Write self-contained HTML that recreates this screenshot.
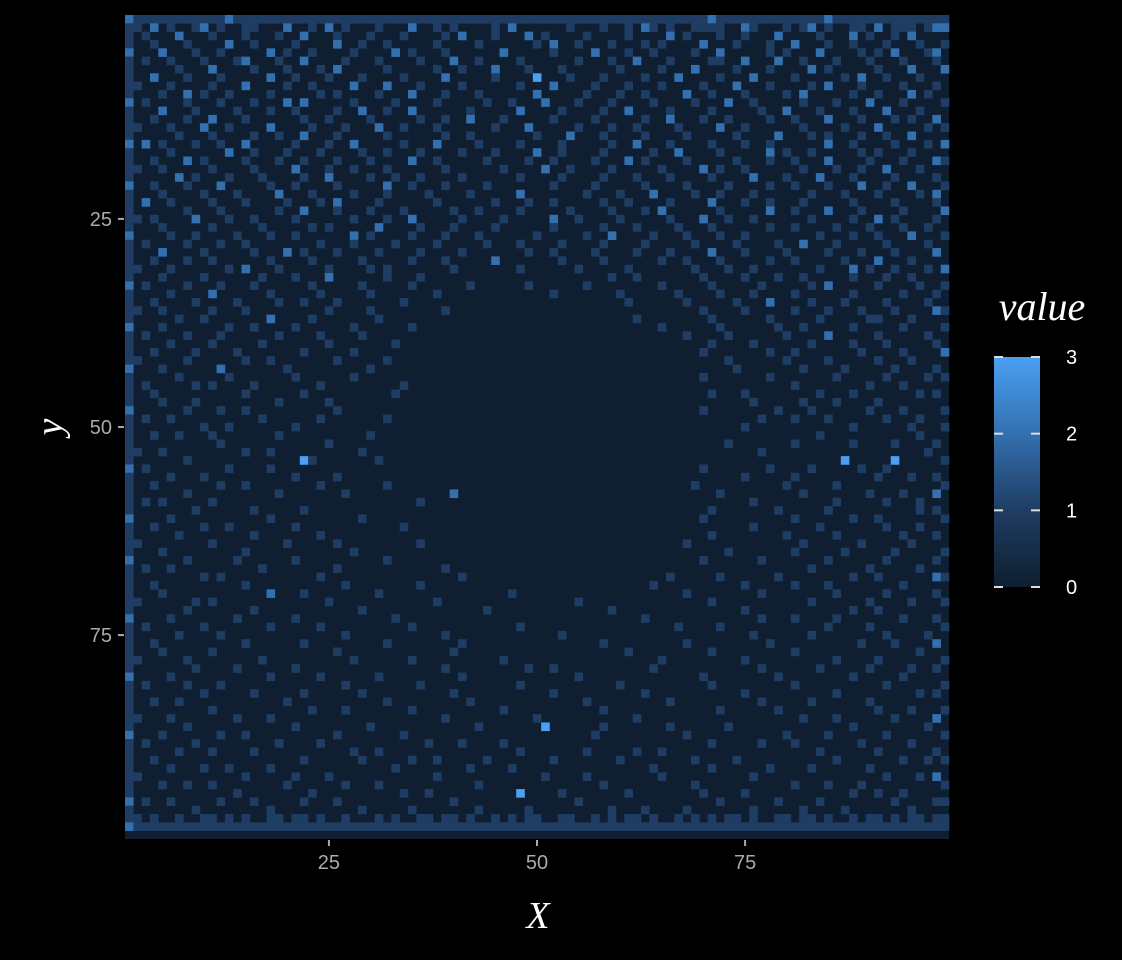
<!DOCTYPE html>
<html><head><meta charset="utf-8"><style>
html,body{margin:0;padding:0;background:#000;}
svg{display:block;}
text{font-family:"Liberation Sans",sans-serif;}
</style></head><body>
<svg id="chart" width="1122" height="960" viewBox="0 0 1122 960">
<rect x="0" y="0" width="1122" height="960" fill="#000"/>
<g id="cells"></g>
<g id="axes"></g>
<text x="538" y="928" font-size="38" fill="#fff" text-anchor="middle" style="font-family:'Liberation Serif',serif;font-style:italic">X</text>
<text x="0" y="0" font-size="38" fill="#fff" text-anchor="middle" transform="translate(62,427) rotate(-90)" style="font-family:'Liberation Serif',serif;font-style:italic">y</text>
<text x="1042" y="320" font-size="40" fill="#fff" text-anchor="middle" style="font-family:'Liberation Serif',serif;font-style:italic">value</text>
<defs><linearGradient id="lg" x1="0" y1="1" x2="0" y2="0">
<stop offset="0" stop-color="#0f1e30"/><stop offset="0.333" stop-color="#1f3d62"/><stop offset="0.667" stop-color="#3370b0"/><stop offset="1" stop-color="#4aa0f2"/></linearGradient></defs>
<rect x="994" y="357" width="46" height="230" fill="url(#lg)"/>
<g id="legend"></g>
</svg>
<script>
const xTicks=[25,50,75];
const yTicks=[25,50,75];
const legendTicks=[0,1,2,3];
const rows=[
"2111111111 1121111111 1111111111 1111111111 1111111111 1111111111 1111111111 2111111111 1111211111 1111111112",
"1102010012 0100110002 0010201000 1000200101 0000102000 0001000100 1021010011 1100210001 0120100110 2011101221",
"1010002000 1000100010 0200010001 0001000010 2000100020 1000010000 1000020100 0100100020 0001000201 0010200001",
"1001000100 0020010000 1000020010 0100000100 0010000001 0200100010 0010100002 0001000100 2000100100 0100010011",
"2000200010 0100000201 0010000100 0020100010 0000020000 0100002000 1001000010 0200000101 0002000010 1020001201",
"1010010001 0001200010 0200001000 1000010002 0010000100 0000100010 0200010000 1100200020 0100010001 0001000101",
"1000001000 2000010001 0001020000 0100000100 1000200010 0010000001 0000100020 0001000100 0020100000 1000200021",
"1002000100 0100000200 1000100010 0001000020 0000100003 0001000100 0010002000 0100020000 1000001020 0100010001",
"1100010000 1000200001 0010000200 0200010000 1000000100 0200001000 1000100001 0002000100 0010200010 0001000101",
"1000100201 0010000100 0001010000 1000200010 0010000002 0000010001 0010000200 1000100001 0200000100 1000201001",
"2010000100 0100010002 0200000100 0010000100 0001001000 2000100010 0001000010 0020010000 0100010002 0001000011",
"1000200010 0001000100 1000010020 0100200000 0100000200 0010000100 2000010000 1000001002 0001000100 0200010001",
"1001000100 2000100000 0100100001 0000010010 0200010000 0100001000 0010020001 0010000100 1000200010 0010100201",
"1100010002 0010000200 0010001000 2001000100 0000100020 0000100010 0100001000 0200100000 0100001000 2000001011",
"1000001000 1000010010 0200010000 0100000010 0100000001 0002000100 0010000100 0001000020 0010100010 0100200001",
"2020100010 0100200000 1000100200 0001000200 0010000100 0010000010 0200010000 1000100100 0000200100 0010001021",
"1000010000 0020010001 0001000010 0100010000 1000100002 0010000100 0001002000 0100000201 0010000010 1000100001",
"1001000201 0000100010 0100010001 0000200100 0001000010 0100001000 2010000100 0001000100 1000200001 0001000211",
"1100100000 1000010000 2000100100 0100000010 0000010000 2001000010 0000100002 0100100000 0100010010 0200010001",
"1000002010 0010001000 0100200001 0010010000 1000000100 0010000100 0100010000 1000020001 0002000100 0010000101",
"2001000100 0200000100 1000010000 0200100010 0001000000 0100001000 0010000100 0010000100 1000100020 0100200011",
"1000100001 0001000020 0010000100 0100001000 0100000200 0000010001 0002000010 0100010000 0010001000 1000010201",
"1020010000 1000100001 0001020000 1000000100 0000100010 0100000100 1000010000 2000100100 0100000100 0010000101",
"1000000100 0100000010 0200010001 0001000001 0010000100 0001000010 0010200000 0100000200 1000200010 0001000021",
"1101000020 0010010000 1000000100 0100200000 1000010000 0200100001 0000010002 0010010000 0010000100 2010000101",
"1000100000 1000001000 0010100000 2000010001 0000100000 0100000100 0100001000 1000000100 1000010001 0001001001",
"2000010010 0001000100 1000000201 0000100010 0010000001 0000010020 0001000100 0100100000 0001000100 1000200011",
"1010000100 0100100000 0001000100 0010000100 0001000100 0010000100 0010000010 0001000010 0200010000 0100001001",
"1000200001 0000010002 0100010000 1000010000 1000000010 0100001000 0100010000 2000100001 0000100010 0010000201",
"1001000100 1000000100 0010000010 0000100010 0000200000 0010000100 0000100100 0100000100 1000001000 2000100001",
"1100010000 0010200010 0000100001 0100000001 0000000100 0000100000 1000000010 0010010000 0001000201 0010001021",
"1000100001 0000001000 1000200000 0100010000 0000000000 0000000010 0100000001 0000100010 0100000100 0100100001",
"2010000100 0100010000 0010000010 0000100000 0100000010 0000010000 0000100000 1000001000 0010200000 1000010011",
"1000010000 2000000100 0001000001 0000000100 0000000000 0100000001 0000001000 0100010000 1000000100 0001000101",
"1001000010 0001000010 0100010000 0001000000 0000000000 0000000000 1000000100 0001000200 0010001000 0100001001",
"1100100000 1000100000 0000100001 0000000010 0000000000 0000000000 0000000001 0000100000 1000100010 0010000211",
"1000001001 0000000200 0010000000 1000000000 0000000000 0000000000 0100000000 1000000100 0001000001 1000100001",
"2000100000 0010010000 1000000100 0000100000 0000000000 0000000000 0000100000 0100000010 0100000100 0001000011",
"1010000100 0100000010 0001000010 0000000000 0000000000 0000000000 0000000100 0010000001 0000200000 1000001001",
"1000010000 1000001000 0000100000 0010000000 0000000000 0000000000 0000000000 1000010000 0010000100 0100000101",
"1001000010 0001000000 0100000100 0000000000 0000000000 0000000000 0000000001 0000000100 1000000010 0001000021",
"1100000100 0000100100 0000010000 0100000000 0000000000 0000000000 0000000000 0010000001 0000100000 1000100001",
"2000100000 0200000001 0000000001 0000000000 0000000000 0000000000 0000000000 0001000000 0100001000 0010000101",
"1000001000 0010000000 1000000100 0000000000 0000000000 0000000000 0000000001 0000000100 0000010000 0100001011",
"1010000010 1000010000 0001000000 0001000000 0000000000 0000000000 0000000000 0000000000 1000000001 0001000001",
"1001000000 0000100000 0100000000 0010000000 0000000000 0000000000 0000000000 1000100000 0001000100 0000010101",
"1000100010 0000000010 0000100000 0000000000 0000000000 0000000000 0000000000 0000010000 0100010000 1000000001",
"2000000100 0100100000 0000010000 0000000000 0000000000 0000000000 0000000001 0000000010 0010000001 0001000011",
"1010010000 0000001000 0001000000 0100000000 0000000000 0000000000 0000000000 0000001000 1000100000 0100010001",
"1000000001 0010000000 1000000000 0000000000 0000000000 0000000000 0000000000 0000100000 0000000100 0000100011",
"1001001000 1000000010 0000000001 0000000000 0000000000 0000000000 0000000000 0000000000 0001000000 0000010001",
"1000000000 0100000000 0000100000 0000000000 0000000000 0000000000 0000000000 0010000000 1000000100 0010000101",
"1100100000 0000100100 0000000010 0000000000 0000000000 0000000000 0000000000 0000001000 0000000000 0000001001",
"1000000100 0000000000 0310000000 1000000000 0000000000 0000000000 0000000000 0000000000 0000003000 0030000011",
"2010000000 0010000100 0000000000 0000000000 0000000000 0000000000 0000000001 0000000100 0010000010 0100000001",
"1000010001 0000000000 1000010000 0000000000 0000000000 0000000000 0000000000 0000100000 1000000000 1000100101",
"1001000000 0100100000 0001000000 0100000000 0000000000 0000000000 0000000010 0000000001 0000010000 0000000011",
"1000000100 0000000010 0000001000 0000000002 0000000000 0000000000 0000000000 0100000000 0100000001 0001000201",
"1010100000 1000000000 0000000000 0000010000 0000000000 0000000000 0000000000 0000010000 0000010000 0100010001",
"1000000010 0000010000 0100000000 0000000000 0000000000 0000000000 0000000000 1000000010 0000100000 0000010101",
"2000010000 0000000100 0000000010 0000000000 0000000000 0000000000 0000000001 0000000000 1000000100 1000000011",
"1001000001 0010000000 1000000000 0001000000 0000000000 0000000000 0000000000 0000010000 0001000000 0100010001",
"1000001000 0000010000 0001000000 0000000000 0000000000 0000000000 0000000000 1000000001 0000010000 0001000101",
"1100000000 1000000001 0000010000 0000010000 0000000000 0000000000 0000000100 0000000000 0100000010 0000100001",
"1000100000 0000100000 0000000100 0000000000 0000000000 0000000000 0000000000 0010000000 1000001000 0010000011",
"2000000100 0001000000 1000000000 0100000000 0000000000 0000000000 0000000001 0000001000 0000100000 0100000101",
"1010010000 0000001000 0000010000 0000000010 0000000000 0000000000 0000000000 0000000000 0010000001 0000010001",
"1000000001 0100000000 0001000000 0000000000 1000000000 0000000000 0000010000 0100000010 0000000100 1000000211",
"1001000000 0000100000 0000001000 0000010000 0000000000 0000000000 0001000000 0000100000 1000100000 0001000001",
"1000100000 0000000200 0100000000 1000000000 0000001000 0000000000 0000000100 0000001000 0000010000 0100000101",
"1100000010 1000000000 0000100000 0000000100 0000000000 0000100000 0000000000 1000000000 0010000001 0000100011",
"1000000100 0000010000 0000000010 0000000000 0001000000 0000000010 0000000000 0000100000 0000000100 1000000001",
"2000010000 0001000000 1000000000 0010000000 0000000000 0000000000 0010000000 0000001000 1000010000 0001000101",
"1010000001 0000000100 0001000000 0000100000 0000000100 0000000000 0000001000 0100000000 0000100001 0000000011",
"1000001000 0100000000 0000001000 0000000010 0000000000 0010000000 0000000000 0000010000 0010000000 0100001001",
"1001000000 0000100000 0100000000 0100000000 1000000000 0000000100 0000000100 0000000100 0000000010 0010000201",
"1000100000 1000000000 0000010000 0000000001 0000000000 0000000000 1000000000 1000000000 1000000000 0000010001",
"1100000100 0000001000 0000000100 0000100000 0000010000 0000000000 0000100000 0000100000 0000010000 1000000011",
"1000000010 0001000000 1000000000 0000000010 0000000010 0100000000 0001000000 0000001000 0001000001 0000100101",
"2000010000 0000000100 0001000000 1000000000 1000000000 0000100000 0000000001 0000000010 0000000100 0001000001",
"1010000100 0100000000 0000001000 0000010000 0000000100 0000000001 0000000000 1000000000 1000000000 0100000011",
"1000000001 0000010000 0100000010 0000000001 0000000000 0100000000 0010000000 0000100000 0000010000 0000010101",
"1001001000 0000000001 0000000000 0100000000 0100000000 0000010000 0000010000 0000001000 0010000001 0000000001",
"1000000000 1000000000 0010001000 0000100000 0000010000 0000000100 0000000000 0100000010 0000000000 1000100011",
"1100010000 0001000100 0000000000 0000000010 0000000001 0000000000 0100000000 0000000000 0100010000 0010000201",
"1000000100 0000000000 1000000001 0000000000 0010000000 3000000100 0000010000 0010000000 0000000100 0000001001",
"2000100000 0100100000 0000010000 0001000000 0000000000 0000001000 0000000100 0000000001 0000100000 0100000011",
"1010000010 0000000010 0001000000 0000001000 1000010000 0000000000 0000000000 1000001000 1000000010 0000100001",
"1000001000 1000010000 0000000100 1000000000 0000000100 0000010000 0100100000 0000000000 0001000000 1000000101",
"1001000000 0000000000 0100000010 0000100100 0001000000 0100000001 0000000010 0001000000 0000010000 0001001011",
"1000010001 0010000100 0000000000 0010000000 0100001000 0000000000 0001000000 1000000100 0010000001 0000000001",
"1100000000 0000100000 1000100000 0000000100 0000000000 1000010000 0000100000 0000010000 0000000000 0100010201",
"1000100100 1000000001 0000001000 1000000000 0010000000 0000000100 0000000010 0000000000 1000100010 0000000011",
"1000000000 0001000000 0010000000 0001001000 0000000300 0010000000 1000000001 0000100000 0000000100 1001000001",
"2010010000 0100010000 0100010000 0000000001 0000000000 0000100000 0000000000 0100000010 0001000000 0010000111",
"1000000010 0000000100 0000000010 0000100000 0010000010 0000000010 0010000100 0000010000 0100001000 0000100001",
"1101001001 1010100110 1101001000 1010011011 0100101011 0011001010 1101001010 1011010011 0110100101 1010110111",
"2111111111 1111111111 1111111111 1111111111 1111111111 1111111111 1111111111 1111111111 1111111111 1111111112"
];
const NS="http://www.w3.org/2000/svg";
const PX0=125,PY0=15,UNIT=824/99;
function sx(x){return PX0+(x-1)*UNIT;}
function sy(y){return PY0+(y-1)*UNIT;}
const stops=["#0f1e30","#1f3d62","#3370b0","#4aa0f2"];
function col(v){return stops[Math.max(0,Math.min(3,Math.round(v)))];}
const cells=document.getElementById('cells');
function cell(x,y,v,name){
  const r=document.createElementNS(NS,'rect');
  r.setAttribute('x',sx(x).toFixed(2));r.setAttribute('y',sy(y).toFixed(2));
  r.setAttribute('width',(UNIT+0.3).toFixed(2));r.setAttribute('height',(UNIT+0.3).toFixed(2));
  r.setAttribute('fill',col(v));
  
  
  cells.appendChild(r);
}
const bg=document.createElementNS(NS,'rect');
bg.setAttribute('x',PX0);bg.setAttribute('y',PY0);bg.setAttribute('width',824);bg.setAttribute('height',824);bg.setAttribute('fill',stops[0]);


cells.appendChild(bg);
rows.forEach((s,ri)=>{
  const r=s.replace(/\s/g,'').padEnd(99,'0').slice(0,99);
  for(let ci=0;ci<99;ci++){const v=+r[ci];if(v>0)cell(ci+1,ri+1,v,'cell');}
});
const axes=document.getElementById('axes');
function line(x1,y1,x2,y2,c,name){const l=document.createElementNS(NS,'line');l.setAttribute('x1',x1);l.setAttribute('y1',y1);l.setAttribute('x2',x2);l.setAttribute('y2',y2);l.setAttribute('stroke',c);l.setAttribute('stroke-width',2);


return l;}
function txt(x,y,s,anchor,name,parent,fill){const t=document.createElementNS(NS,'text');t.setAttribute('x',x);t.setAttribute('y',y);t.setAttribute('font-size',20);t.setAttribute('fill',fill);t.setAttribute('text-anchor',anchor);t.textContent=s;


parent.appendChild(t);}
xTicks.forEach(v=>{const x=sx(v)+UNIT/2;axes.appendChild(line(x,840,x,846,'#aaa','x-tick'));txt(x,869,String(v),'middle','x-tick-label',axes,'#aaa');});
yTicks.forEach(v=>{const y=sy(v)+UNIT/2;axes.appendChild(line(118,y,124,y,'#aaa','y-tick'));txt(112,y+7,String(v),'end','y-tick-label',axes,'#aaa');});
const legend=document.getElementById('legend');
legendTicks.forEach(v=>{const y=587-v*230/3;legend.appendChild(line(994,y,1003,y,'#ddd','legend-tick'));legend.appendChild(line(1031,y,1040,y,'#ddd','legend-tick'));txt(1066,y+7,String(v),'start','legend-label',legend,'#fff');});
</script>
</body></html>
